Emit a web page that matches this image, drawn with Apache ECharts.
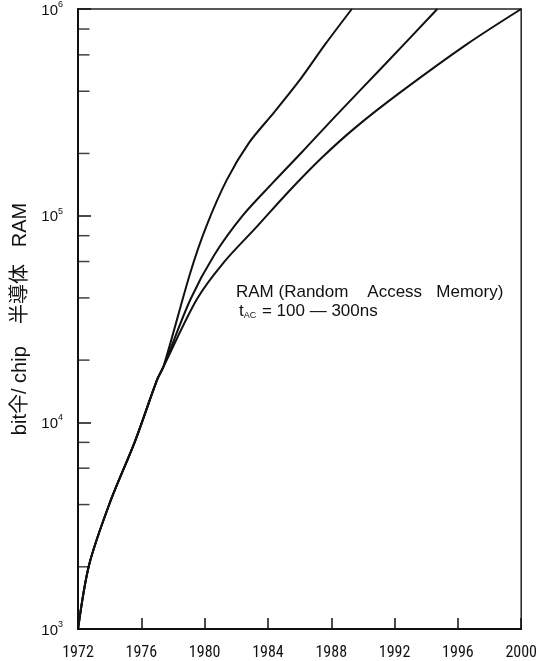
<!DOCTYPE html>
<html>
<head>
<meta charset="utf-8">
<script src="https://cdn.jsdelivr.net/npm/echarts@6/dist/echarts.min.js"></script>
<style>
  html, body { margin: 0; padding: 0; background: #fff; }
  #chart { width: 540px; height: 661px; }
</style>
</head>
<body>
<div id="chart"></div>
<script>
(function () {
    'use strict';
    // common part, 1972 -> ~1977 (bit / chip)
    var sharedYears = [1972, 1972.7, 1974.0, 1975.6, 1977.0, 1977.4];
    var sharedBits = [1000, 2040, 4060, 8090, 16100, 18600];
    // fastest branch
    var fastYears = [1979.1, 1980.1, 1981.4, 1982.8, 1984.4, 1986.1, 1987.6, 1989.3];
    var fastBits = [53100, 88500, 149000, 225000, 317000, 463000, 672000, 1000000];
    // middle branch
    var midYears = [1979.1, 1980.6, 1982.4, 1984.3, 1986.2, 1988.3, 1991.4, 1994.7];
    var midBits = [39300, 64400, 100000, 144000, 205000, 305000, 540000, 1000000];
    // slowest branch
    var slowYears = [1979.5, 1981.2, 1983.3, 1985.3, 1987.4, 1989.5, 1992.4, 1996.6, 2000];
    var slowBits = [39300, 59300, 88500, 130600, 190500, 266000, 397000, 678000, 1000000];
    // minor ticks on the log axis
    var minorBits = [2000, 4000, 6000, 8000, 20000, 40000, 60000, 80000, 200000, 400000, 600000, 800000];
    var yearTicks = [1972, 2000, 4];

    function pairs(xs, ys) {
        var out = [];
        for (var i = 0; i < xs.length; i++) {
            out.push([xs[i], ys[i]]);
        }
        return out;
    }

    function curve(xs, ys) {
        return {
            type: 'line',
            data: pairs(sharedYears, sharedBits).concat(pairs(xs, ys)),
            smooth: 0.3,
            showSymbol: false,
            lineStyle: {color: '#111', width: 2},
            silent: true
        };
    }

    var font = "'Liberation Sans', 'Noto Sans CJK JP', sans-serif";
    var chart = echarts.init(document.getElementById('chart'));
    chart.setOption({
        animation: false,
        backgroundColor: '#fff',
        grid: {
            left: 78, right: 14, top: 8, bottom: 31,
            show: true, borderColor: '#222', borderWidth: 1.5
        },
        xAxis: {
            type: 'value',
            min: yearTicks[0], max: yearTicks[1], interval: yearTicks[2],
            splitLine: {show: false},
            axisLine: {lineStyle: {color: '#111', width: 2}},
            axisTick: {inside: true, length: 11, lineStyle: {color: '#111', width: 1.5}},
            axisLabel: {
                color: '#111', fontSize: 16, margin: 16,
                fontFamily: "'Liberation Sans Narrow', 'Roboto Condensed', 'Liberation Sans', sans-serif",
                formatter: function (v) { return String(v); }
            }
        },
        yAxis: {
            type: 'log',
            logBase: 10,
            min: 1000, max: 1000000,
            splitNumber: 3,
            splitLine: {show: false},
            axisLine: {lineStyle: {color: '#111', width: 2}},
            axisTick: {inside: true, length: 13, lineStyle: {color: '#111', width: 1.5}},
            axisLabel: {
                margin: 15,
                formatter: function (v) {
                    return '{b|10}{s|' + Math.round(Math.log10(v)) + '}';
                },
                rich: {
                    b: {fontSize: 15, color: '#111', fontFamily: font, verticalAlign: 'bottom'},
                    s: {fontSize: 9, color: '#111', fontFamily: font, verticalAlign: 'top', padding: [0, 0, 9, 0]}
                }
            },
            name: 'bit仐/ chip    半導体   RAM',
            nameLocation: 'middle',
            nameGap: 46,
            nameRotate: 90,
            nameTextStyle: {fontSize: 20, color: '#111', fontFamily: font}
        },
        series: [
            curve(fastYears, fastBits),
            curve(midYears, midBits),
            curve(slowYears, slowBits),
            {
                type: 'scatter',
                data: minorBits.map(function (b) { return [yearTicks[0], b]; }),
                symbol: 'rect',
                symbolSize: [11, 1.5],
                symbolOffset: [6, 0],
                itemStyle: {color: '#111'},
                clip: false,
                silent: true
            }
        ],
        graphic: [
            {
                type: 'text', left: 236, top: 284,
                style: {
                    text: 'RAM (Random    Access   Memory)',
                    fontSize: 17, fill: '#111', fontFamily: font
                }
            },
            {
                type: 'text', left: 239, top: 303,
                style: {
                    text: '{t|t}{sub|AC}{t| = 100 — 300ns}',
                    rich: {
                        t: {fontSize: 17, fill: '#111', fontFamily: font},
                        sub: {fontSize: 9, fill: '#111', fontFamily: font, verticalAlign: 'bottom', padding: [7, 1, 0, 0]}
                    }
                }
            }
        ]
    });
    window.onresize = function () {
        chart.resize();
    };
})();
</script>
</body>
</html>
